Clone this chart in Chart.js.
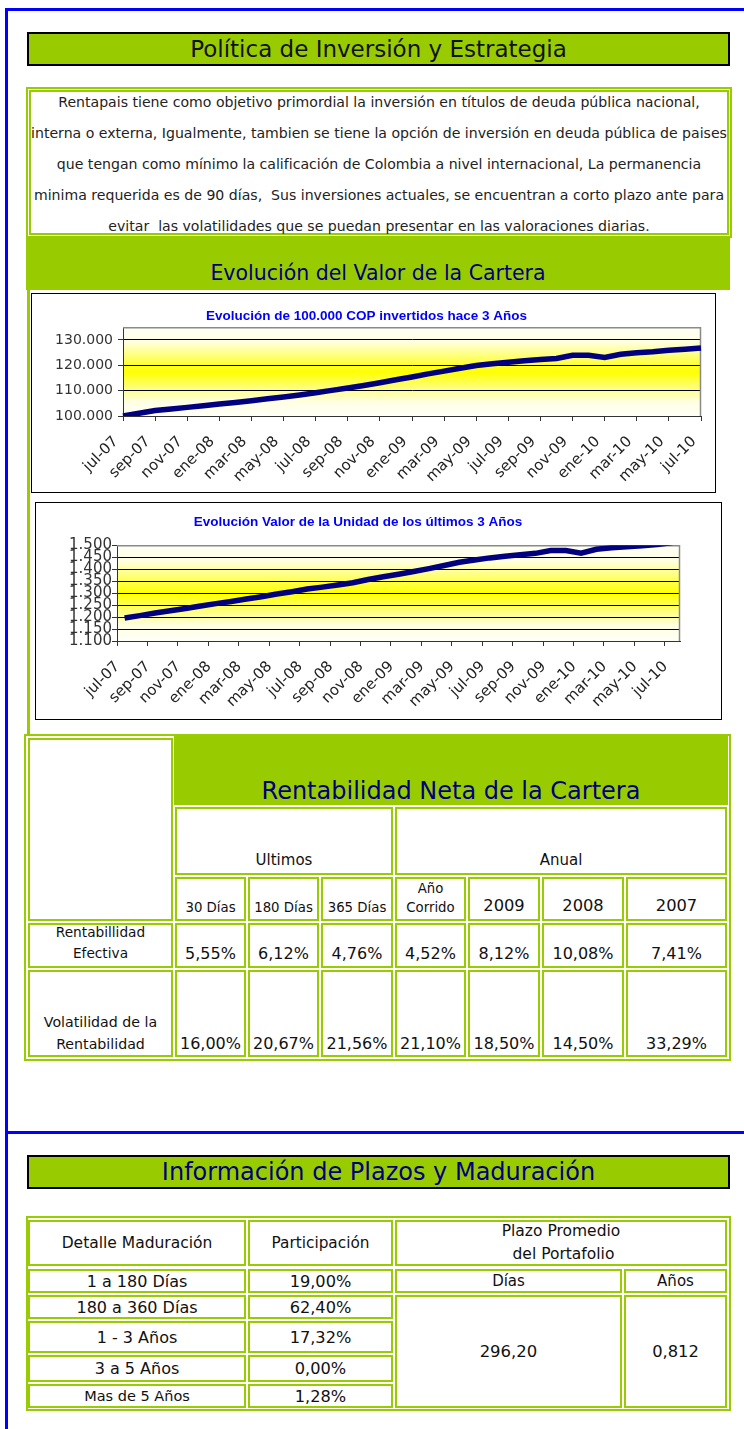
<!DOCTYPE html>
<html lang="es">
<head>
<meta charset="utf-8">
<title>Rentapais - Valor de la Cartera</title>
<script src="https://cdn.jsdelivr.net/npm/chart.js@4.4.0/dist/chart.umd.min.js"></script>
<style>
    body {
        margin: 0;
        width: 744px;
        height: 1429px;
        position: relative;
        overflow: hidden;
        background: #fff;
        font-family: 'DejaVu Sans', sans-serif;
        color: #111;
    }
    .abs { position: absolute; box-sizing: border-box; }
    .title {
        background: #99CC00;
        border: 2px solid #000;
        text-align: center;
        font-size: 23px;
        line-height: 30px;
        white-space: nowrap;
    }
    .chartbox { border: 1px solid #000; background: #fff; }
    .cell {
        position: absolute;
        box-sizing: border-box;
        border: 2px solid #99CC00;
        background: #fff;
        display: flex;
        flex-direction: column;
        justify-content: flex-end;
        align-items: center;
        text-align: center;
        white-space: nowrap;
        color: #111;
    }
</style>
</head>
<body>

<!-- blue page frame -->
<div class="abs" style="left:5px;top:8px;width:739px;height:1421px;border-left:3px solid #0000FF;border-top:3px solid #0000FF"></div>
<div class="abs" style="left:5px;top:1131px;width:739px;height:3px;background:#0000FF"></div>

<div class="abs title" style="left:27px;top:32px;width:703px;height:34px">Política de Inversión y Estrategia</div>

<div class="abs" style="left:26px;top:87px;width:706px;height:151px;border:5px double #99CC00"></div>
<div class="abs" style="left:26px;top:87px;width:706px;text-align:center;font-size:14.1px;line-height:31px;white-space:nowrap;color:#222">
    Rentapais tiene como objetivo primordial la inversión en títulos de deuda pública nacional,<br>
    interna o externa, Igualmente, tambien se tiene la opción de inversión en deuda pública de paises<br>
    que tengan como mínimo la calificación de Colombia a nivel internacional, La permanencia<br>
    minima requerida es de 90 días,&nbsp; Sus inversiones actuales, se encuentran a corto plazo ante para<br>
    evitar&nbsp; las volatilidades que se puedan presentar en las valoraciones diarias.
</div>

<div class="abs" style="left:26px;top:238px;width:704px;height:52px;background:#99CC00"></div>
<div class="abs" style="left:26px;top:261px;width:704px;text-align:center;font-size:20.5px;line-height:24px;color:#000080;white-space:nowrap">Evolución del Valor de la Cartera</div>
<div class="abs" style="left:27px;top:290px;width:3px;height:445px;background:#99CC00"></div>

<div class="abs chartbox" style="left:31px;top:293px;width:685px;height:200px"><canvas id="chartCartera"></canvas></div>
<div class="abs chartbox" style="left:35px;top:502px;width:687px;height:218px"><canvas id="chartUnidad"></canvas></div>

<div class="abs title" style="left:27px;top:1155px;width:703px;height:34px;color:#000080;font-size:24px">Información de Plazos y Maduración</div>

<script>
// monthly series, jul-07 .. jul-10
const months = ['jul-07', 'ago-07', 'sep-07', 'oct-07', 'nov-07', 'dic-07',
    'ene-08', 'feb-08', 'mar-08', 'abr-08', 'may-08', 'jun-08',
    'jul-08', 'ago-08', 'sep-08', 'oct-08', 'nov-08', 'dic-08',
    'ene-09', 'feb-09', 'mar-09', 'abr-09', 'may-09', 'jun-09',
    'jul-09', 'ago-09', 'sep-09', 'oct-09', 'nov-09', 'dic-09',
    'ene-10', 'feb-10', 'mar-10', 'abr-10', 'may-10', 'jun-10', 'jul-10']

// value of 100.000 COP invested
const carteraValues = [100000, 101100, 102200, 102800, 103400, 104000,
    104700, 105300, 106000, 106800, 107500, 108300,
    109200, 110100, 111000, 112000, 113100, 114300,
    115400, 116600, 117700, 118800, 119900, 120600,
    121200, 121800, 122300, 122700, 123900, 123900,
    123100, 124300, 124900, 125300, 125900, 126300, 126800]

// unit value
const unidadValues = [1.196, 1.206, 1.217, 1.226, 1.236, 1.246,
    1.256, 1.265, 1.275, 1.285, 1.296, 1.306,
    1.317, 1.325, 1.334, 1.343, 1.357, 1.368,
    1.379, 1.390, 1.402, 1.415, 1.429, 1.438,
    1.447, 1.454, 1.460, 1.466, 1.478, 1.478,
    1.467, 1.483, 1.489, 1.494, 1.498, 1.503, 1.511]

// axis ranges and tick values
const carteraRange = [100000, 135000]
const carteraTicks = [100000, 110000, 120000, 130000]
const unidadRange = [1.1, 1.5]
const unidadTicks = [1.1, 1.15, 1.2, 1.25, 1.3, 1.35, 1.4, 1.45, 1.5]

// Rentabilidad table
const periodos = ['30 Días', '180 Días', '365 Días', 'Año<br>Corrido', '2009', '2008', '2007']
const rentEfectiva = ['5,55%', '6,12%', '4,76%', '4,52%', '8,12%', '10,08%', '7,41%']
const volatilidad = ['16,00%', '20,67%', '21,56%', '21,10%', '18,50%', '14,50%', '33,29%']

// Plazos table
const maduracion = ['1 a 180 Días', '180 a 360 Días', '1 - 3 Años', '3 a 5 Años', 'Mas de 5 Años']
const participacion = ['19,00%', '62,40%', '17,32%', '0,00%', '1,28%']
const plazoDias = '296,20'
const plazoAnos = '0,812'

const fontFamily = "'DejaVu Sans', sans-serif"
Chart.defaults.font.family = fontFamily

function cell(x, y, w, h, html, css) {
    let d = document.createElement('div')
    d.className = 'cell'
    d.style.cssText = `left:${x}px;top:${y}px;width:${w}px;height:${h}px;` + (css || '')
    d.innerHTML = html
    document.body.appendChild(d)
    return d
}

// yellow band behind the plot and grey frame on top/right
const plotFrame = {
    id: 'plotFrame',
    beforeDraw(chart) {
        const { ctx, chartArea: a } = chart
        const g = ctx.createLinearGradient(0, a.top, 0, a.bottom)
        g.addColorStop(0, '#FFFFF6')
        g.addColorStop(0.16, '#FFFFE4')
        g.addColorStop(0.5, '#FFFF00')
        g.addColorStop(0.84, '#FFFFE4')
        g.addColorStop(1, '#FFFFF6')
        ctx.save()
        ctx.fillStyle = g
        ctx.fillRect(a.left, a.top, a.right - a.left, a.bottom - a.top)
        ctx.restore()
    },
    beforeDatasetsDraw(chart) {
        const { ctx, chartArea: a } = chart
        ctx.save()
        ctx.strokeStyle = '#8a8a8a'
        ctx.lineWidth = 1.5
        ctx.beginPath()
        ctx.moveTo(a.left, a.top + 0.5)
        ctx.lineTo(a.right - 0.5, a.top + 0.5)
        ctx.lineTo(a.right - 0.5, a.bottom)
        ctx.stroke()
        ctx.restore()
    }
}

function xAxis(height, offset) {
    return {
        offset: offset,
        border: { color: '#333' },
        grid: {
            offset: offset,
            drawOnChartArea: false,
            tickLength: 5,
            tickColor: c => c.index % 2 === 0 ? '#333' : 'rgba(0,0,0,0)'
        },
        ticks: {
            autoSkip: false,
            minRotation: 45,
            maxRotation: 45,
            padding: 12,
            labelOffset: -7,
            color: '#222',
            font: { size: 15 },
            callback: function (v, i) {
                return i % 2 === 0 ? this.getLabelForValue(v) : ''
            }
        },
        afterFit: s => { s.height = height; s.paddingLeft = 0; s.paddingRight = 0 }
    }
}

function yAxis(range, tickValues, width, pad, size, fmt) {
    return {
        min: range[0],
        max: range[1],
        border: { color: '#333' },
        grid: { color: '#000', tickColor: '#333', tickLength: 5 },
        ticks: {
            autoSkip: false,
            padding: pad,
            color: '#333',
            font: { size: size },
            callback: fmt
        },
        afterBuildTicks: s => { s.ticks = tickValues.map(v => ({ value: v })) },
        afterFit: s => { s.width = width; s.paddingTop = 0; s.paddingBottom = 0 }
    }
}

function titleOpts(text, top, bottom) {
    return {
        display: true,
        text: text,
        color: '#0000FF',
        font: { family: "'Liberation Sans', Arial, sans-serif", size: 13.5, weight: 'bold' },
        padding: { top: top, bottom: bottom }
    }
}

const thousands = v => String(Math.round(v)).replace(/\B(?=(\d{3})+(?!\d))/g, '.')

new Chart(document.getElementById('chartCartera'), {
    type: 'line',
    data: {
        labels: months,
        datasets: [{
            data: carteraValues,
            borderColor: '#000080',
            borderWidth: 5.5,
            pointRadius: 0,
            tension: 0
        }]
    },
    options: {
        responsive: true,
        maintainAspectRatio: false,
        animation: false,
        devicePixelRatio: 1,
        layout: { padding: { left: 0, right: 14, top: 0, bottom: 0 } },
        plugins: {
            legend: { display: false },
            tooltip: { enabled: false },
            title: titleOpts('Evolución de 100.000 COP invertidos hace 3 Años', 14, 3)
        },
        scales: {
            x: xAxis(76, false),
            y: yAxis(carteraRange, carteraTicks, 91, 5, 14, thousands)
        }
    },
    plugins: [plotFrame]
})

new Chart(document.getElementById('chartUnidad'), {
    type: 'line',
    data: {
        labels: months,
        datasets: [{
            data: unidadValues,
            borderColor: '#000080',
            borderWidth: 5.5,
            pointRadius: 0,
            tension: 0,
            clip: 0
        }]
    },
    options: {
        responsive: true,
        maintainAspectRatio: false,
        animation: false,
        devicePixelRatio: 1,
        layout: { padding: { left: 0, right: 41, top: 0, bottom: 0 } },
        plugins: {
            legend: { display: false },
            tooltip: { enabled: false },
            title: titleOpts('Evolución Valor de la Unidad de los últimos 3 Años', 11, 15)
        },
        scales: {
            x: xAxis(78, true),
            y: yAxis(unidadRange, unidadTicks, 81, 0, 15, v => v.toFixed(3))
        }
    },
    plugins: [plotFrame]
})

// Rentabilidad Neta de la Cartera
cell(24, 734, 707, 327, '', 'background:transparent')
cell(28, 738, 145, 183, '')
cell(174, 736, 554, 69, 'Rentabilidad Neta de la Cartera',
    'border:none;background:#99CC00;color:#000080;font-size:24px;line-height:28px')
cell(175, 807, 218, 68, 'Ultimos', 'font-size:15px;line-height:20px;padding-bottom:3px')
cell(395, 807, 332, 68, 'Anual', 'font-size:15px;line-height:20px;padding-bottom:3px')

const colX = [175, 248, 321, 395, 468, 542, 626]
const colW = [71, 71, 72, 71, 72, 82, 101]
periodos.forEach((p, i) => {
    let css = i < 4 ? 'font-size:13.3px;line-height:19px;padding-bottom:2px' : 'font-size:16.3px;line-height:20px;padding-bottom:3px'
    cell(colX[i], 877, colW[i], 44, p, css)
})
cell(28, 923, 145, 45, 'Rentabillidad<br>Efectiva', 'font-size:13.7px;line-height:21px;padding-bottom:2px')
rentEfectiva.forEach((v, i) => {
    cell(colX[i], 923, colW[i], 45, v, 'font-size:16px;line-height:20px;padding-bottom:2px')
})
cell(28, 970, 145, 87, 'Volatilidad de la<br>Rentabilidad', 'font-size:14.2px;line-height:21.5px;padding-bottom:0px')
volatilidad.forEach((v, i) => {
    cell(colX[i], 970, colW[i], 87, v, 'font-size:16px;line-height:20px;padding-bottom:1px')
})

// Información de Plazos y Maduración
cell(26, 1216, 705, 195, '', 'background:transparent')
const mid = 'justify-content:center;'
cell(28, 1220, 218, 46, 'Detalle Maduración', mid + 'font-size:15.5px')
cell(248, 1220, 145, 46, 'Participación', mid + 'font-size:15.3px')
cell(395, 1220, 332, 46, 'Plazo Promedio<br>&nbsp;del Portafolio', mid + 'font-size:15.5px;line-height:23px')
cell(395, 1269, 227, 24, 'Días', mid + 'font-size:15px')
cell(624, 1269, 103, 24, 'Años', mid + 'font-size:15px')
cell(395, 1295, 227, 113, plazoDias, mid + 'font-size:16.5px')
cell(624, 1295, 103, 113, plazoAnos, mid + 'font-size:16.3px')

const rowY = [1269, 1295, 1321, 1355, 1384]
const rowH = [24, 24, 32, 27, 24]
maduracion.forEach((m, i) => {
    let size = i === 4 ? 14.5 : 16
    cell(28, rowY[i], 218, rowH[i], m, mid + 'font-size:' + size + 'px')
    cell(248, rowY[i], 145, rowH[i], participacion[i], mid + 'font-size:16.2px')
})
</script>
</body>
</html>
